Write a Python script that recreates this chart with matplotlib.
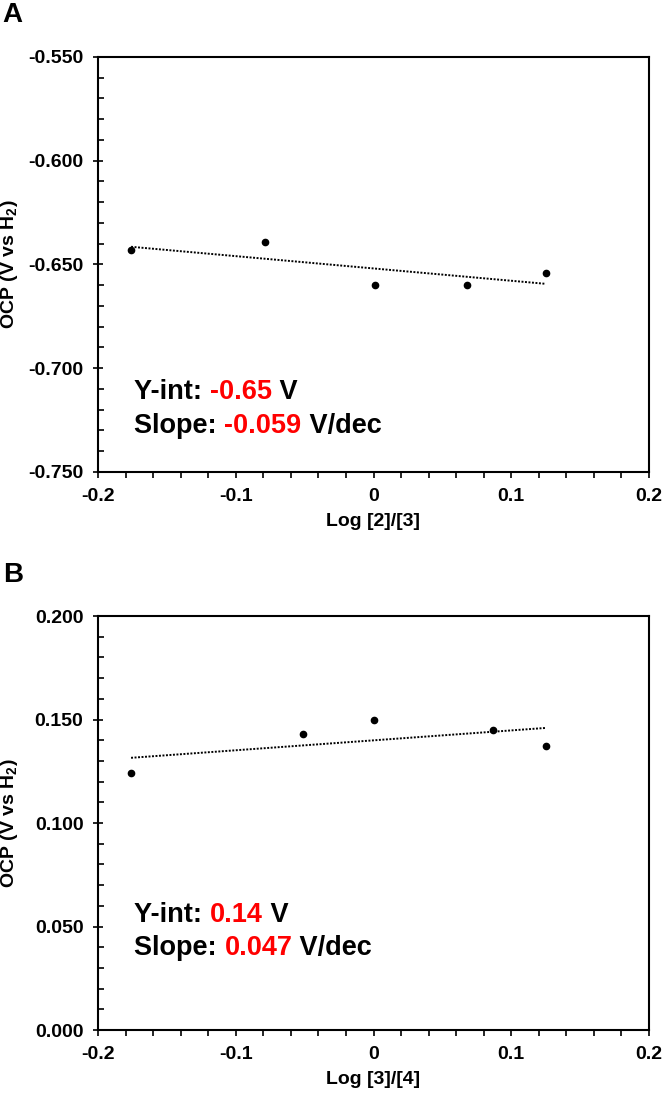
import numpy as np
import matplotlib
matplotlib.use("Agg")
import matplotlib.pyplot as plt
from matplotlib.ticker import MultipleLocator, FixedLocator

plt.rcParams['font.family'] = ['Liberation Sans', 'DejaVu Sans']
plt.rcParams['font.weight'] = 'bold'
plt.rcParams['mathtext.fontset'] = 'custom'
plt.rcParams['mathtext.rm'] = 'Liberation Sans:bold'
plt.rcParams['mathtext.it'] = 'Liberation Sans:bold'
plt.rcParams['mathtext.bf'] = 'Liberation Sans:bold'

# panel A: Log [2]/[3]
x_a = [-0.176, -0.079, 0.001, 0.068, 0.125]
y_a = [-0.643, -0.639, -0.660, -0.660, -0.654]
yint_a = "-0.65"
slope_a = "-0.059"

# panel B: Log [3]/[4]
x_b = [-0.176, -0.051, 0.000, 0.087, 0.125]
y_b = [0.124, 0.143, 0.150, 0.145, 0.137]
yint_b = "0.14"
slope_b = "0.047"

xticks = [-0.2, -0.1, 0.0, 0.1, 0.2]
xtick_labels = ["-0.2", "-0.1", "0", "0.1", "0.2"]

fig = plt.figure(figsize=(6.64, 10.93), dpi=100)
ax_a = fig.add_axes([0.1476, 0.5682, 0.8298, 0.3797])
ax_b = fig.add_axes([0.1476, 0.0576, 0.8298, 0.3788])


def colored_line(ax, x, y, parts):
    # write a line of text made of (string, colour) pieces side by side
    t = ax.text(x, y, parts[0][0], color=parts[0][1], fontsize=19.5,
                fontweight='bold', transform=ax.transAxes, va='center', ha='left')
    for s, c in parts[1:]:
        t = ax.annotate(s, xycoords=t, xy=(1, 0), va='bottom', ha='left',
                        color=c, fontsize=19.5, fontweight='bold')


def panel(ax, x, y, ylim, xlabel, yint, slope, text_y, letter, letter_y):
    ax.plot(x, y, 'o', color='black', markersize=4.5, zorder=3)
    m, b = np.polyfit(x, y, 1)
    xx = np.array([min(x), max(x)])
    ax.plot(xx, m * xx + b, linestyle=(0, (1, 0.8)), color='black', linewidth=1.4)

    ax.set_xlim(-0.2, 0.2)
    ax.set_ylim(*ylim)
    ax.xaxis.set_major_locator(FixedLocator(xticks))
    ax.set_xticklabels(xtick_labels)
    ax.xaxis.set_minor_locator(MultipleLocator(0.02))
    ax.yaxis.set_major_locator(MultipleLocator(0.05))
    ax.yaxis.set_minor_locator(MultipleLocator(0.01))
    ax.yaxis.set_major_formatter(plt.FormatStrFormatter('%.3f'))

    for s in ax.spines.values():
        s.set_linewidth(1.5)
    ax.tick_params(axis='y', which='major', direction='inout', length=7, width=1.2,
                   labelsize=14, pad=7)
    ax.tick_params(axis='y', which='minor', direction='in', length=4, width=1.2)
    ax.tick_params(axis='x', which='major', direction='out', length=4.5, width=1.2,
                   labelsize=14, pad=7)
    ax.tick_params(axis='x', which='minor', direction='out', length=4, width=1.2)
    for lab in ax.get_xticklabels() + ax.get_yticklabels():
        lab.set_fontweight('bold')

    ax.set_xlabel(xlabel, fontsize=14, fontweight='bold', labelpad=6)
    ax.set_ylabel('OCP (V vs H$_2$)', fontsize=14, fontweight='bold')
    ax.yaxis.set_label_coords(-0.142, 0.5)

    colored_line(ax, 0.066, text_y[0], [("Y-int: ", 'black'), (yint, 'red'), (" V", 'black')])
    colored_line(ax, 0.066, text_y[1], [("Slope: ", 'black'), (slope, 'red'), (" V/dec", 'black')])

    fig.text(0.004, letter_y, letter, fontsize=20, fontweight='bold', va='center', ha='left')


panel(ax_a, x_a, y_a, (-0.75, -0.55), 'Log [2]/[3]', yint_a, slope_a, (0.193, 0.11),
      'A', 1 - 15 / 1093)
panel(ax_b, x_b, y_b, (0.0, 0.2), 'Log [3]/[4]', yint_b, slope_b, (0.278, 0.1975),
      'B', 1 - 575 / 1093)

fig.savefig('out.png', dpi=100)
